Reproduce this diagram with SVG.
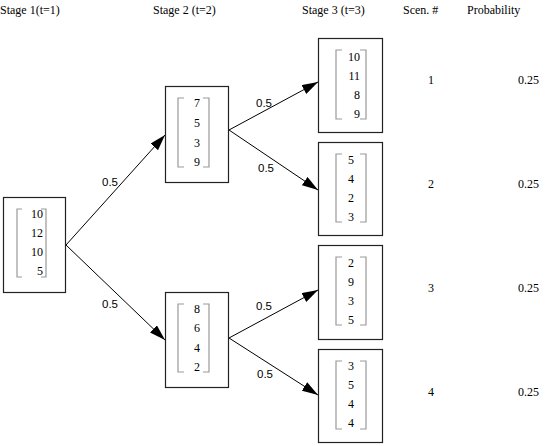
<svg xmlns="http://www.w3.org/2000/svg" width="552" height="446" viewBox="0 0 552 446">
<style>
text{font-family:"Liberation Serif","DejaVu Serif",serif;font-size:12px;fill:#000}
.lbl{font-family:"Liberation Sans",Arial,sans-serif;font-size:11.5px}
.box{fill:#fff;stroke:#222;stroke-width:1.2}
.br{fill:none;stroke:#999;stroke-width:1.2}
.num{text-anchor:end}
.c{text-anchor:middle}
.edge{stroke:#000;stroke-width:1;fill:none;marker-end:url(#ah)}
</style>
<defs>
<marker id="ah" viewBox="0 0 16 10" refX="16" refY="5" markerWidth="16" markerHeight="10" markerUnits="userSpaceOnUse" orient="auto">
<path d="M0,0 L16,5 L0,10 Z" fill="#000"/>
</marker>
</defs>
<rect width="552" height="446" fill="#fff"/>
<g id="headers">
<text x="0" y="14">Stage 1(t=1)</text>
<text x="153" y="14">Stage 2 (t=2)</text>
<text x="302" y="14">Stage 3 (t=3)</text>
<text x="403" y="14">Scen. #</text>
<text x="467" y="14">Probability</text>
</g>
<g id="connectors">
<line class="edge" x1="66" y1="245" x2="165" y2="135"/>
<line class="edge" x1="66" y1="245" x2="165" y2="340"/>
<line class="edge" x1="229" y1="130" x2="318" y2="82"/>
<line class="edge" x1="229" y1="130" x2="318" y2="190"/>
<line class="edge" x1="229" y1="338" x2="318" y2="290"/>
<line class="edge" x1="229" y1="338" x2="318" y2="395"/>
<text class="lbl" x="102" y="186">0.5</text>
<text class="lbl" x="102" y="308">0.5</text>
<text class="lbl" x="256" y="107">0.5</text>
<text class="lbl" x="258" y="172">0.5</text>
<text class="lbl" x="256" y="310">0.5</text>
<text class="lbl" x="257" y="378">0.5</text>
</g>
<g id="n1">
<rect class="box" x="3.5" y="197.5" width="62" height="95"/>
<path class="br" d="M22,209 H17 V277 H22 M41,209 H46 V277 H41"/>
<text class="num" x="43" y="218">10</text>
<text class="num" x="43" y="237">12</text>
<text class="num" x="43" y="256">10</text>
<text class="num" x="43" y="275">5</text>
</g>
<g id="n2a">
<rect class="box" x="165.5" y="86.5" width="63" height="96"/>
<path class="br" d="M184,98 H178 V167 H184 M203,98 H209 V167 H203"/>
<text class="c" x="197" y="107">7</text>
<text class="c" x="197" y="127">5</text>
<text class="c" x="197" y="147">3</text>
<text class="c" x="197" y="166">9</text>
</g>
<g id="n2b">
<rect class="box" x="165.5" y="292.5" width="63" height="95"/>
<path class="br" d="M184,304 H178 V372 H184 M203,304 H209 V372 H203"/>
<text class="c" x="197" y="313">8</text>
<text class="c" x="197" y="332">6</text>
<text class="c" x="197" y="352">4</text>
<text class="c" x="197" y="371">2</text>
</g>
<g id="n3a">
<rect class="box" x="318.5" y="38.5" width="64" height="94"/>
<path class="br" d="M342,50 H336 V119 H342 M360,50 H366 V119 H360"/>
<text class="num" x="360" y="61">10</text>
<text class="num" x="360" y="80">11</text>
<text class="num" x="360" y="99">8</text>
<text class="num" x="360" y="118">9</text>
</g>
<g id="n3b">
<rect class="box" x="318.5" y="142.5" width="64" height="93"/>
<path class="br" d="M342,154 H336 V222 H342 M360,154 H366 V222 H360"/>
<text class="c" x="351" y="164">5</text>
<text class="c" x="351" y="183">4</text>
<text class="c" x="351" y="202">2</text>
<text class="c" x="351" y="221">3</text>
</g>
<g id="n3c">
<rect class="box" x="318.5" y="245.5" width="64" height="94"/>
<path class="br" d="M342,257 H336 V325 H342 M360,257 H366 V325 H360"/>
<text class="c" x="351" y="267">2</text>
<text class="c" x="351" y="286">9</text>
<text class="c" x="351" y="305">3</text>
<text class="c" x="351" y="324">5</text>
</g>
<g id="n3d">
<rect class="box" x="318.5" y="349.5" width="64" height="93"/>
<path class="br" d="M342,361 H336 V429 H342 M360,361 H366 V429 H360"/>
<text class="c" x="351" y="370">3</text>
<text class="c" x="351" y="389">5</text>
<text class="c" x="351" y="408">4</text>
<text class="c" x="351" y="427">4</text>
</g>
<g id="scenarios">
<text class="c" x="431" y="84">1</text>
<text x="518" y="84">0.25</text>
<text class="c" x="431" y="188">2</text>
<text x="518" y="188">0.25</text>
<text class="c" x="431" y="292">3</text>
<text x="518" y="292">0.25</text>
<text class="c" x="431" y="396">4</text>
<text x="518" y="396">0.25</text>
</g>
</svg>
